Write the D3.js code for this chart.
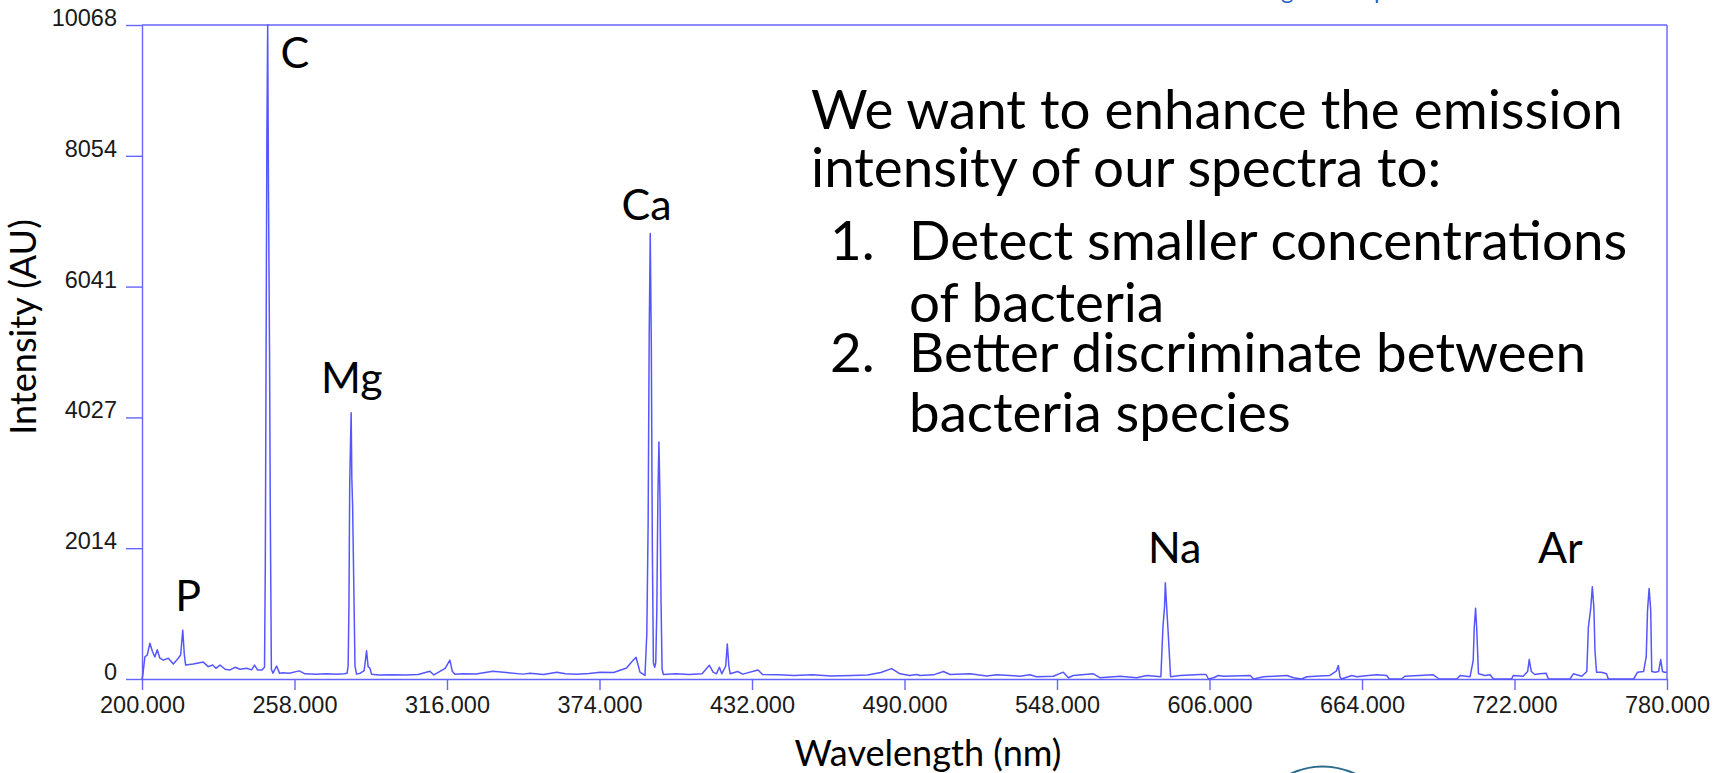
<!DOCTYPE html>
<html>
<head>
<meta charset="utf-8">
<script src="https://cdn.jsdelivr.net/npm/d3@7"></script>
<style>
  html, body { margin: 0; padding: 0; background: #fff; overflow: hidden; }
  svg { display: block; }
  .axis text { font-family: "Liberation Sans", Arial, sans-serif; fill: #1a1a1a; }
  .axis line, .axis path { stroke: #6464ff; stroke-width: 1.4; }
  .slide-text { font-family: Lato, "Noto Sans", sans-serif; fill: #000; }
</style>
</head>
<body>
<div id="chart"></div>
<script>
// ── DATA ─────────────────────────────────────────────────────────────────────
// spectrum: wavelength (nm) and intensity (AU)
const wavelength = [
  200.0, 200.3, 201.1, 202.0, 203.0, 204.0, 204.9, 205.8, 206.8, 208.1,
  210.0, 211.9, 213.8, 214.7, 215.5, 216.1, 216.6, 219.5, 223.3, 225.2,
  226.9, 228.1, 229.7, 231.6, 233.5, 235.4, 237.3, 239.8, 241.7, 242.8,
  243.9, 245.6, 246.6, 246.9, 247.2, 247.5, 247.8, 248.1, 248.5, 248.8,
  249.2, 249.8, 251.2, 252.3, 253.5, 256.0, 259.8, 262.0, 266.0, 270.0,
  274.0, 277.0, 278.0, 278.4, 278.7, 279.0, 279.3, 279.55, 279.8, 280.1,
  280.4, 280.7, 281.0, 281.6, 283.0, 284.5, 285.4, 286.0, 286.7, 287.3,
  290.0, 295.0, 300.0, 305.0, 309.5, 311.0, 315.3, 317.1, 318.0, 319.0,
  322.0, 327.0, 333.5, 338.5, 344.9, 347.6, 352.7, 357.8, 361.0, 365.4,
  370.0, 374.3, 379.4, 384.3, 386.2, 387.9, 389.4, 391.3, 392.0, 392.5,
  392.9, 393.3, 393.7, 394.1, 394.5, 395.0, 395.4, 395.8, 396.2, 396.6,
  397.0, 397.4, 397.8, 398.3, 403.0, 408.0, 413.0, 415.8, 417.2, 418.5,
  419.6, 420.5, 422.0, 422.6, 423.2, 423.7, 426.5, 428.5, 434.3, 436.0,
  442.0, 448.0, 455.0, 462.0, 470.0, 476.0, 481.0, 485.1, 488.3, 492.0,
  494.6, 495.9, 501.0, 504.8, 507.3, 514.9, 521.3, 525.1, 533.9, 537.7,
  540.2, 546.6, 550.4, 552.3, 554.2, 561.8, 564.3, 572.0, 578.3, 582.1,
  587.5, 588.3, 588.9, 589.2, 589.7, 590.3, 591.2, 594.8, 602.4, 604.7,
  605.6, 607.5, 609.4, 611.3, 621.5, 622.8, 626.6, 635.5, 638.0, 641.0,
  643.0, 648.0, 651.8, 654.2, 655.0, 655.6, 656.2, 660.1, 662.0, 666.4,
  669.6, 673.4, 674.4, 679.0, 680.3, 691.1, 693.3, 700.0, 701.3, 705.1,
  706.3, 706.7, 707.2, 707.6, 708.3, 710.8, 712.7, 714.0, 720.9, 721.5,
  725.3, 727.0, 727.6, 728.4, 729.7, 731.6, 734.0, 734.9, 743.1, 744.4,
  747.6, 749.5, 750.1, 751.0, 751.6, 752.2, 752.6, 753.2, 755.1, 757.0,
  757.7, 767.3, 768.8, 771.1, 772.1, 772.6, 773.2, 773.8, 774.2, 775.5,
  776.8, 777.6, 778.3, 779.0, 780.0
];

const intensity = [
  0, 60, 340, 370, 550, 420, 340, 450, 320, 290,
  320, 230, 320, 370, 750, 370, 215, 230, 260, 190,
  215, 165, 215, 150, 140, 180, 150, 165, 140, 215,
  140, 140, 180, 1770, 5080, 8380, 10068, 7550, 5080, 2540,
  150, 90, 200, 90, 95, 90, 125, 80, 72, 80,
  72, 80, 90, 200, 1090, 3000, 3640, 4100, 3090, 2680,
  1850, 1030, 200, 75, 90, 130, 435, 190, 165, 72,
  62, 66, 62, 70, 120, 62, 165, 290, 120, 72,
  80, 78, 120, 100, 75, 89, 69, 105, 80, 72,
  85, 105, 100, 170, 260, 335, 105, 54, 700, 2400,
  5300, 6860, 5170, 2000, 250, 180, 250, 1060, 2780, 3650,
  2800, 1200, 150, 70, 80, 70, 80, 210, 105, 80,
  180, 80, 200, 540, 200, 80, 115, 75, 140, 70,
  65, 55, 65, 45, 55, 60, 100, 160, 80, 55,
  70, 54, 64, 115, 69, 80, 48, 64, 43, 64,
  35, 43, 105, 20, 54, 80, 20, 43, 20, 54,
  35, 805, 1112, 1480, 1112, 700, 35, 54, 69, 69,
  0, 20, 54, 43, 54, 0, 35, 54, 20, 0,
  35, 45, 54, 120, 208, 35, 0, 54, 35, 54,
  64, 54, 0, 0, 43, 64, 0, 0, 54, 35,
  285, 800, 1090, 800, 80, 54, 64, 0, 0, 54,
  43, 115, 300, 115, 69, 80, 90, 0, 0, 80,
  43, 115, 800, 1090, 1420, 1090, 438, 105, 105, 80,
  0, 0, 105, 115, 343, 1060, 1395, 1060, 115, 105,
  115, 300, 115, 105, 105
];

const xTicks = [200, 258, 316, 374, 432, 490, 548, 606, 664, 722, 780];
const yTicks = [0, 2014, 4027, 6041, 8054, 10068];

// element annotations (anchor of the label, in data units)
const elementNames = ['P', 'C', 'Mg', 'Ca', 'Na', 'Ar'];
const elementWl    = [212.6, 252.7, 268.1, 382.4, 582.6, 730.9];
const elementInt   = [1047, 9400, 4403, 7066, 1786, 1786];

const introLines = ['We want to enhance the emission', 'intensity of our spectra to:'];
const listMarkers = ['1.', '2.'];
const listItems = [
  ['Detect smaller concentrations', 'of bacteria'],
  ['Better discriminate between', 'bacteria species']
];

// ── DIMENSIONS ───────────────────────────────────────────────────────────────
const W = 1725, H = 773;
const margin = { top: 25, left: 142, right: 58, bottom: 94 };
const width  = W - margin.left - margin.right;   // 1525
const height = H - margin.top - margin.bottom;   // 654
const FRAME = '#6464ff';

const svg = d3.select('#chart').append('svg')
  .attr('width', W)
  .attr('height', H);

svg.append('rect').attr('width', W).attr('height', H).attr('fill', '#fff');

const g = svg.append('g')
  .attr('transform', `translate(${margin.left},${margin.top})`);

// ── SCALES / AXES ────────────────────────────────────────────────────────────
const x = d3.scaleLinear().domain([200, 780]).range([0, width]);
const y = d3.scaleLinear().domain([0, 10068]).range([height, 0]);

g.append('g')
  .attr('class', 'axis')
  .call(d3.axisLeft(y).tickValues(yTicks).tickSize(16).tickSizeOuter(0).tickPadding(9)
    .tickFormat(d3.format('d')))
  .call(a => a.selectAll('text').attr('font-size', 23.5).attr('dy', '0.02em'));

g.append('g')
  .attr('class', 'axis')
  .attr('transform', `translate(0,${height})`)
  .call(d3.axisBottom(x).tickValues(xTicks).tickSize(11).tickSizeOuter(0).tickPadding(6)
    .tickFormat(d3.format('.3f')))
  .call(a => a.selectAll('text').attr('font-size', 23.5));

// top and right frame
g.append('line')
  .attr('x1', 0).attr('x2', x(780))
  .attr('y1', y(10068)).attr('y2', y(10068))
  .attr('stroke', FRAME).attr('stroke-width', 1.6);
g.append('line')
  .attr('x1', x(780)).attr('x2', x(780))
  .attr('y1', y(10068)).attr('y2', y(0))
  .attr('stroke', FRAME).attr('stroke-width', 1.4);

// ── SPECTRUM ─────────────────────────────────────────────────────────────────
const points = wavelength.map((w, i) => ({ wl: w, v: intensity[i] }));

g.append('path')
  .datum(points)
  .attr('fill', 'none')
  .attr('stroke', '#5656ff')
  .attr('stroke-width', 1.5)
  .attr('stroke-linejoin', 'round')
  .attr('d', d3.line().x(d => x(d.wl)).y(d => y(d.v)));

// ── TEXT ─────────────────────────────────────────────────────────────────────
// size a text so that it spans the given width
function fitText(sel, target) {
  sel.attr('font-size', 100);
  const w = sel.node().getComputedTextLength();
  const size = 100 * target / w;
  sel.attr('font-size', size);
  return size;
}

// slide body text
const body = svg.append('g').attr('class', 'slide-text');
const first = body.append('text').attr('x', 811).attr('y', 129).text(introLines[0]);
const bodySize = fitText(first, 812);
body.append('text').attr('x', 811).attr('y', 187).attr('font-size', bodySize).text(introLines[1]);

const listLines = [[260, 322], [372, 432]];
listItems.forEach((item, i) => {
  body.append('text')
    .attr('x', 830).attr('y', listLines[i][0])
    .attr('font-size', bodySize)
    .text(listMarkers[i]);
  item.forEach((line, j) => {
    body.append('text')
      .attr('x', 909).attr('y', listLines[i][j])
      .attr('font-size', bodySize)
      .text(line);
  });
});

// element labels
const labelSize = bodySize * 46 / 58.6;
g.selectAll('.element-label')
  .data(elementNames)
  .join('text')
    .attr('class', 'element-label slide-text')
    .attr('x', (d, i) => x(elementWl[i]))
    .attr('y', (d, i) => y(elementInt[i]))
    .attr('font-size', labelSize)
    .text(d => d);

// axis titles
const xTitle = svg.append('text')
  .attr('class', 'slide-text')
  .attr('x', 928).attr('y', 766)
  .attr('text-anchor', 'middle')
  .text('Wavelength (nm)');
const titleSize = fitText(xTitle, 267);

svg.append('text')
  .attr('class', 'slide-text')
  .attr('transform', 'translate(36,327) rotate(-90)')
  .attr('text-anchor', 'middle')
  .attr('font-size', titleSize)
  .text('Intensity (AU)');

// cut-off header fragments at the top edge
svg.append('text').attr('class', 'slide-text').attr('x', 1281).attr('y', -1)
  .attr('font-size', 24).style('fill', '#2a62c8').text('g');
svg.append('text').attr('class', 'slide-text').attr('x', 1374).attr('y', -1)
  .attr('font-size', 24).style('fill', '#2a62c8').text('p');

// partial logo arc at the bottom edge
svg.append('path')
  .attr('d', 'M1288,775 Q1322,758 1358,775')
  .attr('fill', 'none')
  .attr('stroke', '#2b6a8c')
  .attr('stroke-width', 2);
</script>
</body>
</html>
